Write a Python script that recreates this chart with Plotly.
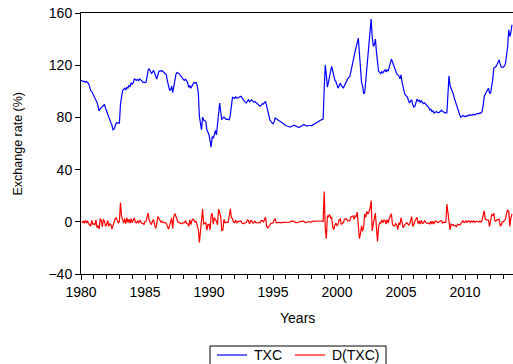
import plotly.graph_objects as go

# Monthly TXC values (Exchange rate, %), Jan 1980 - Sep 2013
txc_1980s = [
    108.5, 108.0, 107.5, 107.8, 107.0, 107.5, 106.8, 106.0, 104.0, 100.5, 100.0, 98.5,   # 1980
    97.0, 95.0, 93.0, 91.5, 88.5, 85.0, 86.5, 87.5, 88.5, 89.5, 90.0, 87.0,              # 1981
    84.5, 82.0, 79.5, 78.0, 76.0, 74.0, 70.5, 71.0, 73.5, 75.5, 76.0, 75.5,              # 1982
    75.6, 90.0, 97.0, 100.6, 101.5, 102.4, 101.0, 103.0, 102.5, 104.5, 103.8, 106.3,     # 1983
    105.5, 106.5, 109.5, 109.0, 108.5, 109.0, 108.2, 109.5, 109.0, 108.0, 107.0, 106.7,  # 1984
    106.7, 107.0, 111.0, 116.5, 117.2, 116.0, 113.8, 114.5, 116.2, 114.0, 111.0, 109.3,  # 1985
    112.5, 115.2, 115.7, 115.5, 115.9, 115.2, 114.6, 114.0, 112.6, 108.0, 104.0, 101.0,  # 1986
    101.1, 104.0, 99.0, 103.0, 109.3, 113.0, 114.4, 114.0, 113.5, 112.5, 111.0, 110.0,   # 1987
    109.0, 108.3, 109.3, 108.0, 106.5, 103.0, 104.5, 102.4, 103.5, 105.5, 106.7, 106.5,  # 1988
    106.7, 104.0, 98.6, 80.7, 74.0, 70.5, 80.2, 78.0, 77.5, 76.9, 70.5, 68.5,            # 1989
]
txc_1990s = [
    66.7, 62.0, 57.2, 65.4, 64.0, 66.7, 70.0, 66.7, 75.0, 87.0, 91.0, 84.0,              # 1990
    78.2, 79.5, 80.2, 79.5, 78.5, 78.7, 78.2, 78.2, 82.0, 89.7, 95.3, 95.0,              # 1991
    94.5, 95.8, 94.8, 95.0, 95.4, 95.5, 96.2, 95.0, 93.5, 92.5, 91.5, 91.0,              # 1992
    92.5, 93.5, 92.0, 92.7, 93.5, 92.5, 91.8, 92.2, 91.5, 90.5, 89.7, 89.0,              # 1993
    88.4, 89.5, 90.5, 90.2, 91.5, 92.2, 89.0, 84.5, 81.0, 78.2, 77.0, 76.0,              # 1994
    75.1, 76.5, 79.5, 79.0, 78.2, 77.8, 77.2, 76.8, 76.0, 75.5, 75.0, 74.3,              # 1995
    73.8, 73.5, 73.2, 72.8, 72.5, 73.0, 73.5, 73.8, 74.1, 73.5, 73.0, 72.8,              # 1996
    72.3, 72.5, 73.0, 73.8, 74.3, 74.6, 74.0, 73.5, 73.3, 73.8, 74.0, 73.8,              # 1997
    73.6, 74.0, 74.5, 75.0, 75.3, 75.6, 76.3, 77.0, 77.6, 78.2, 78.5, 78.7,              # 1998
    102.0, 120.3, 112.6, 103.2, 107.0, 112.6, 115.5, 119.0, 115.0, 111.0, 108.5, 107.5,  # 1999
]
txc_2000s = [
    104.5, 102.4, 104.0, 106.3, 104.5, 103.0, 102.4, 104.5, 106.5, 108.8, 109.5, 110.5,  # 2000
    111.3, 115.0, 119.5, 124.1, 126.0, 130.5, 134.0, 138.0, 140.8, 129.3, 116.0, 107.0,  # 2001
    104.0, 98.0, 99.0, 108.0, 119.0, 124.0, 134.3, 145.0, 155.3, 142.0, 134.5, 135.6,    # 2002
    140.0, 130.0, 122.8, 115.2, 114.5, 113.5, 115.0, 114.2, 115.5, 116.5, 114.8, 116.5,  # 2003
    115.5, 118.0, 122.0, 124.7, 122.5, 120.3, 117.0, 115.7, 113.5, 112.6, 111.9, 109.5,  # 2004
    112.6, 107.0, 102.4, 99.5, 97.3, 96.5, 95.5, 93.0, 91.0, 92.5, 93.5, 90.0,           # 2005
    87.9, 88.5, 90.5, 94.0, 92.5, 93.2, 91.5, 92.8, 91.5, 90.5, 91.2, 90.5,              # 2006
    89.5, 88.4, 87.5, 85.8, 86.2, 84.5, 85.0, 83.3, 83.8, 84.5, 84.0, 83.5,              # 2007
    84.0, 84.8, 85.5, 84.5, 84.0, 83.8, 83.3, 83.5, 104.2, 111.9, 104.2, 102.4,          # 2008
    100.0, 98.0, 94.8, 92.0, 88.4, 86.5, 84.5, 82.0, 80.2, 80.5, 81.5, 81.0,             # 2009
]
txc_2010s = [
    80.5, 81.2, 80.8, 81.5, 82.0, 81.4, 82.0, 81.8, 82.5, 82.0, 82.4, 82.7,              # 2010
    83.0, 82.8, 83.5, 83.3, 84.5, 89.0, 96.0, 98.0, 99.9, 101.0, 102.4, 98.6,            # 2011
    98.6, 104.0, 108.8, 117.8, 118.5, 119.0, 120.5, 122.0, 124.0, 121.0, 118.5, 118.5,   # 2012
    118.5, 119.5, 121.6, 128.0, 134.3, 147.1, 142.0, 145.0, 151.0,                       # 2013
]

# Monthly D(TXC) values
d_txc_1980s = [
    None, -0.8, 0.6, -1.2, 1.0, -0.5, 0.8, -1.5, -2.0, -3.5, 1.2, -1.8,      # 1980
    -1.5, -2.5, 1.5, -4.5, -3.0, -5.5, 2.5, 1.0, -4.0, 2.0, 0.5, -3.0,       # 1981
    -2.5, 1.0, -3.5, -1.5, -2.0, -5.6, -3.0, 1.5, 2.5, 3.0, 0.5, -1.0,       # 1982
    0.3, 14.8, 4.5, 2.0, -1.0, 2.5, -1.5, 3.0, -0.5, 2.0, -1.0, 2.5,         # 1983
    -0.8, 1.2, 3.0, -0.5, -0.7, 0.5, -1.0, 1.3, -0.5, -1.0, -1.2, -2.0,      # 1984
    0.2, 0.4, 4.0, 6.6, 0.8, -1.5, -2.2, 0.8, 1.7, -2.3, -5.0, -1.7,         # 1985
    4.0, 2.7, 0.5, -0.3, 0.5, -0.7, -0.6, -0.6, -1.4, -4.6, -5.6, -3.0,      # 1986
    1.0, 3.0, -5.0, 4.0, 6.3, 3.7, 1.4, -0.4, -0.5, -1.0, -1.5, -1.0,        # 1987
    -1.0, -0.7, 1.0, -1.3, -1.5, -3.5, 1.5, -2.1, 1.1, 2.0, 1.2, -0.2,       # 1988
    0.2, -2.2, -5.9, -15.8, -7.7, -2.5, 9.7, -1.7, -1.0, -0.6, -6.4, -2.0,   # 1989
]
d_txc_1990s = [
    -1.8, -6.0, 4.8, 6.6, -1.9, 3.2, 1.8, 0.5, -2.3, 9.7, 7.0, 4.0,          # 1990
    -7.0, -6.2, 2.0, -0.7, -0.5, -0.5, -0.3, 4.8, 10.0, 3.3, 2.3, -0.3,      # 1991
    -0.5, 1.3, -1.0, 0.2, 0.4, 0.1, 0.7, -1.2, -1.5, -1.0, -1.0, -0.5,       # 1992
    1.5, 1.0, -1.5, 0.7, 0.8, -1.0, -0.7, 0.4, -0.7, -1.0, -0.8, -0.7,       # 1993
    -0.6, 1.1, 1.0, -0.3, 1.3, 3.6, -3.2, -5.0, -3.5, -2.8, -1.2, -1.0,      # 1994
    -0.9, 1.4, 2.5, -0.5, -0.8, -0.4, -0.6, -0.4, -0.8, -0.5, -0.5, -0.7,    # 1995
    -0.5, -0.3, -0.3, -0.4, -0.3, 0.5, 0.5, 0.3, 0.3, -0.6, -0.5, -0.2,      # 1996
    -0.5, 0.2, 0.5, 0.8, 0.5, 0.3, -0.6, -0.5, -0.2, 0.5, 0.2, -0.2,         # 1997
    -0.2, 0.4, 0.5, 0.5, 0.3, 0.3, 0.7, 0.7, 0.6, 0.6, 0.3, 0.2,             # 1998
    23.2, -5.0, -13.0, 4.6, 3.8, 5.6, 2.9, 3.5, -4.0, -6.0, -2.5, -1.0,      # 1999
]
d_txc_2000s = [
    -3.0, -2.1, 1.6, 2.3, -1.8, -1.5, -0.6, 2.1, 2.0, 2.3, 0.7, 1.0,         # 2000
    0.8, 3.7, 4.5, 4.6, 1.9, 4.5, 4.0, 7.4, -2.8, -12.8, -9.0, -3.0,         # 2001
    -7.4, -4.0, 6.0, 3.5, 8.0, 6.0, 7.5, 10.5, 16.3, -7.0, -1.5, 2.0,        # 2002
    6.6, -5.0, -15.0, -3.6, -0.7, -1.0, 1.5, -0.8, 1.3, 1.0, -1.7, 1.7,      # 2003
    -1.0, 2.5, 4.0, 6.1, -2.2, -3.0, -3.3, -1.3, -2.2, -6.0, -0.7, -2.4,     # 2004
    3.1, -0.5, -4.6, -2.9, -2.2, -0.8, -1.0, -2.5, -2.0, 1.5, 4.0, -3.5,     # 2005
    -2.1, 0.6, 2.0, 3.5, -1.5, 0.7, -1.7, 1.3, -1.3, -1.0, 0.7, -0.7,        # 2006
    -1.0, -1.1, -0.9, -1.7, 0.4, -1.7, 0.5, -1.7, 0.5, 0.7, -0.5, -0.5,      # 2007
    0.5, 0.8, 0.7, -1.0, -0.5, -0.2, -0.5, 13.5, 6.6, -3.0, -6.0, -1.8,      # 2008
    -2.4, -2.0, -3.2, -2.8, -3.6, -1.9, -2.0, -2.5, -1.8, 0.3, 1.0, -0.5,    # 2009
]
d_txc_2010s = [
    -0.5, 0.7, -0.4, 0.7, 0.5, -0.6, 0.6, -0.2, 0.7, -0.5, 0.4, 0.3,         # 2010
    0.3, -0.2, 0.7, -0.2, 1.2, 4.5, 8.4, 2.0, 1.9, 1.1, 1.4, -3.8,           # 2011
    0.0, 5.4, 4.8, 6.6, 0.7, 0.5, 1.5, 1.5, 2.0, -3.0, -2.5, 0.0,            # 2012
    0.0, 1.0, 2.1, 6.4, 9.2, 8.0, -3.6, 3.0, 6.0,                            # 2013
]

start_year = 1980
x_tick_vals = [1980, 1985, 1990, 1995, 2000, 2005, 2010]
y_tick_vals = [-40, 0, 40, 80, 120, 160]
series_names = ["TXC", "D(TXC)"]
series_colors = ["#0000FF", "#FF0000"]

txc = txc_1980s + txc_1990s + txc_2000s + txc_2010s
d_txc = d_txc_1980s + d_txc_1990s + d_txc_2000s + d_txc_2010s
months = [start_year + i / 12 for i in range(len(txc))]

FONT = "Liberation Sans, Arial, sans-serif"

fig = go.Figure()
for name, color, vals in zip(series_names, series_colors, [txc, d_txc]):
    fig.add_trace(go.Scatter(x=months, y=vals, mode="lines", name=name,
                             line=dict(color=color, width=1.2), showlegend=False))

# Plot area geometry in pixels (for placing the boxed legend beneath the plot)
L, R, T, B = 81, 513, 13, 274
W, H = R - L, B - T


def px(xp):
    return (xp - L) / W


def py(yp):
    return (B - yp) / H


legend_y = 355
shapes = [
    dict(type="rect", xref="paper", yref="paper", x0=px(210), x1=px(386),
         y0=py(346), y1=py(372), line=dict(color="black", width=1),
         fillcolor="white", layer="above"),
    dict(type="line", xref="paper", yref="paper", x0=px(217), x1=px(247),
         y0=py(legend_y), y1=py(legend_y), line=dict(color=series_colors[0], width=1.2)),
    dict(type="line", xref="paper", yref="paper", x0=px(295), x1=px(325),
         y0=py(legend_y), y1=py(legend_y), line=dict(color=series_colors[1], width=1.2)),
]
legend_texts = [
    dict(text=series_names[0], xref="paper", yref="paper", x=px(252), y=py(legend_y),
         xanchor="left", yanchor="middle", showarrow=False,
         font=dict(family=FONT, size=14)),
    dict(text=series_names[1], xref="paper", yref="paper", x=px(330), y=py(legend_y),
         xanchor="left", yanchor="middle", showarrow=False,
         font=dict(family=FONT, size=14)),
]

fig.update_layout(
    width=513, height=364,
    margin=dict(l=L, r=0, t=T, b=364 - B, autoexpand=False),
    plot_bgcolor="white", paper_bgcolor="white",
    font=dict(family=FONT, size=14, color="black"),
    showlegend=False,
    xaxis=dict(range=[1980, 2013.75], tickmode="array", tickvals=x_tick_vals,
               ticks="outside", ticklen=5, tickcolor="black", tickwidth=1,
               showline=True, linecolor="black", linewidth=1, mirror=True,
               showgrid=False, zeroline=False,
               tickfont=dict(family=FONT, size=14),
               minor=dict(dtick=1, tick0=1980, ticks="outside", ticklen=4,
                          tickcolor="black", showgrid=False)),
    yaxis=dict(range=[-40, 160], tickmode="array", tickvals=y_tick_vals,
               ticks="outside", ticklen=5, tickcolor="black", tickwidth=1,
               showline=True, linecolor="black", linewidth=1,
               showgrid=False, zeroline=False,
               tickfont=dict(family=FONT, size=14)),
    shapes=shapes,
    annotations=[
        dict(text="Years", xref="paper", yref="paper", x=0.5, y=py(318),
             xanchor="center", yanchor="middle", showarrow=False,
             font=dict(family=FONT, size=14)),
        dict(text="Exchange rate (%)", xref="paper", yref="paper", x=px(17), y=0.5,
             xanchor="center", yanchor="middle", textangle=-90, showarrow=False,
             font=dict(family=FONT, size=12.5)),
    ] + legend_texts,
)

fig.write_html("out.html")
